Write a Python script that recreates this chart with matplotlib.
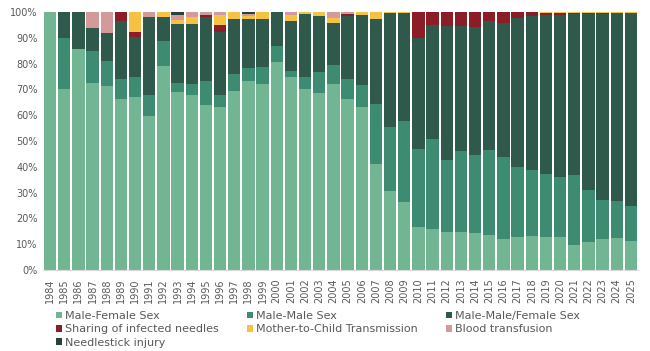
import matplotlib
matplotlib.use("Agg")
import matplotlib.pyplot as plt
import numpy as np
from matplotlib.ticker import PercentFormatter

years = [str(y) for y in range(1984, 2026)]

# shares in percent
male_female = [100, 70, 85.7, 72.6, 71.3, 66.4, 67.2, 59.7, 78.9, 69.0,
               68.0, 63.8, 63.2, 69.5, 73.3, 72.1, 80.8, 74.7, 70.0, 68.7,
               72.1, 66.1, 63.0, 41.1, 30.6, 26.3, 16.6, 15.8, 14.8, 14.8,
               14.3, 13.4, 11.9, 12.7, 13.2, 12.7, 12.7, 9.7, 11.0, 11.9,
               12.5, 11.4]
male_male = [0, 20, 0, 12.4, 9.7, 7.7, 7.8, 8.1, 9.8, 3.4,
             4.0, 9.5, 4.8, 6.5, 4.9, 6.4, 6.1, 2.6, 4.7, 8.0,
             7.4, 7.8, 8.6, 23.2, 24.9, 31.5, 30.2, 34.8, 27.7, 31.4,
             30.2, 33.0, 31.8, 27.2, 25.5, 24.7, 23.4, 27.0, 19.9, 15.1,
             14.1, 13.6]
male_male_female = [0, 10, 14.3, 8.9, 10.7, 22.3, 15.4, 30.2, 9.3, 22.9,
                    23.3, 24.7, 24.2, 21.4, 19.1, 18.9, 13.1, 19.1, 24.7, 21.6,
                    16.2, 24.7, 27.1, 33.1, 44.1, 41.8, 43.3, 44.5, 51.9, 48.2,
                    49.5, 50.0, 52.0, 57.6, 59.9, 61.6, 62.9, 62.5, 68.4, 72.3,
                    73.0, 74.6]
needles = [0, 0, 0, 0, 0, 3.6, 1.8, 0, 0, 0,
           0, 1.0, 2.8, 0, 0, 0, 0, 0, 0, 0,
           0, 0.6, 0, 0, 0, 0, 9.9, 4.9, 5.6, 5.6,
           6.0, 3.6, 4.3, 2.5, 1.4, 0.6, 0.6, 0.4, 0.3, 0.3,
           0, 0]
mother_child = [0, 0, 0, 0, 0, 0, 7.8, 0, 2.0, 1.7,
                2.6, 0, 3.8, 2.6, 1.0, 2.6, 0, 2.6, 0.6, 1.7,
                2.0, 0, 1.3, 2.6, 0.4, 0.4, 0, 0, 0, 0,
                0, 0, 0, 0, 0, 0.4, 0.4, 0.4, 0.4, 0.4,
                0.4, 0.4]
blood = [0, 0, 0, 6.1, 8.3, 0, 0, 2.0, 0, 1.7,
         2.1, 1.0, 1.2, 0, 1.0, 0, 0, 1.0, 0, 0,
         2.3, 0.8, 0, 0, 0, 0, 0, 0, 0, 0,
         0, 0, 0, 0, 0, 0, 0, 0, 0, 0,
         0, 0]
needlestick = [0, 0, 0, 0, 0, 0, 0, 0, 0, 1.3,
               0, 0, 0, 0, 0.7, 0, 0, 0, 0, 0,
               0, 0, 0, 0, 0, 0, 0, 0, 0, 0,
               0, 0, 0, 0, 0, 0, 0, 0, 0, 0,
               0, 0]

series = [
    ("Male-Female Sex", male_female, "#72b593"),
    ("Male-Male Sex", male_male, "#3d8c72"),
    ("Male-Male/Female Sex", male_male_female, "#2f5a4b"),
    ("Sharing of infected needles", needles, "#8c1d27"),
    ("Mother-to-Child Transmission", mother_child, "#f5c243"),
    ("Blood transfusion", blood, "#d49a9a"),
    ("Needlestick injury", needlestick, "#2b4038"),
]

plt.rcParams["font.family"] = ["DejaVu Sans"]
text_color = "#595959"

fig = plt.figure(figsize=(6.5, 3.51), dpi=100)
ax = fig.add_axes([43 / 650, 1 - 270 / 351, 595 / 650, 258 / 351])

x = np.arange(len(years))
bottom = np.zeros(len(years))
handles = {}
for name, values, color in series:
    vals = np.array(values, dtype=float)
    bars = ax.bar(x, vals, width=0.86, bottom=bottom, color=color,
                  linewidth=0, label=name)
    handles[name] = bars
    bottom += vals

ax.set_xlim(-0.5, len(years) - 0.5)
ax.set_ylim(0, 100)
ax.set_yticks(np.arange(0, 101, 10))
ax.yaxis.set_major_formatter(PercentFormatter(decimals=0))
ax.set_xticks(x)
ax.set_xticklabels(years, rotation=90)
ax.tick_params(axis="both", length=0, labelsize=7, colors=text_color)
ax.tick_params(axis="x", pad=6)
ax.tick_params(axis="y", pad=4)

for side in ["top", "right", "left"]:
    ax.spines[side].set_visible(False)
ax.spines["bottom"].set_color("#d9d9d9")

# matplotlib fills legend columns first, so reorder to get the row layout
order = ["Male-Female Sex", "Sharing of infected needles", "Needlestick injury",
         "Male-Male Sex", "Mother-to-Child Transmission",
         "Male-Male/Female Sex", "Blood transfusion"]
leg = fig.legend(
    [handles[n] for n in order], order,
    loc="upper left", bbox_to_anchor=(56 / 650, 1 - 311 / 351),
    ncol=3, frameon=False, fontsize=8,
    handlelength=0.55, handleheight=0.55, handletextpad=0.25,
    columnspacing=2.55, labelspacing=0.3, borderaxespad=0, borderpad=0,
)
for t in leg.get_texts():
    t.set_color(text_color)

fig.savefig("out.png", dpi=100)
